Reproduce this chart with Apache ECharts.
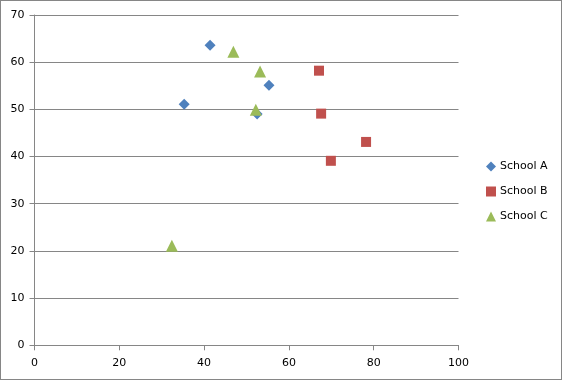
<!DOCTYPE html>
<html><head><meta charset="utf-8">
<script src="https://cdn.jsdelivr.net/npm/echarts@6/dist/echarts.min.js"></script>
<style>html,body{margin:0;padding:0;background:#fff}#c{width:562px;height:380px;box-sizing:border-box;border:1px solid #868686}</style>
</head><body><div id="c"></div>
<script>
const seriesNames = ['School A', 'School B', 'School C'];
const schoolA = [[41.4, 63.6], [35.3, 51.1], [55.3, 55.1], [52.5, 49.0]];
const schoolB = [[67.1, 58.2], [67.6, 49.1], [78.2, 43.1], [69.9, 39.1]];
const schoolC = [[46.9, 62.2], [53.2, 58.0], [52.2, 49.9], [32.4, 21.1]];
const xTicks = [0, 20, 40, 60, 80, 100];
const yTicks = [0, 10, 20, 30, 40, 50, 60, 70];

const chart = echarts.init(document.getElementById('c'), null, {renderer: 'canvas'});
const axisCol = '#868686';
const font = {fontFamily: 'DejaVu Sans', fontSize: 11, color: '#000'};
chart.setOption({
  animation: false,
  textStyle: font,
  grid: {left: 33.5, right: 102.5, top: 14, bottom: 33.7, containLabel: false},
  legend: {
    orient: 'vertical', left: 480, top: 155,
    itemWidth: 10, itemHeight: 10, itemGap: 14,
    textStyle: {fontFamily: 'DejaVu Sans', fontSize: 11, color: '#000', padding: [0, 0, 0, -1]},
    data: [
      {name: seriesNames[0], icon: 'diamond'},
      {name: seriesNames[1], icon: 'rect'},
      {name: seriesNames[2], icon: 'triangle'}
    ]
  },
  xAxis: {
    type: 'value', min: xTicks[0], max: xTicks[xTicks.length - 1], interval: 20,
    axisLine: {show: true, lineStyle: {color: axisCol}},
    axisTick: {show: true, length: 5, lineStyle: {color: axisCol}},
    splitLine: {show: false},
    axisLabel: {margin: 12, fontFamily: 'DejaVu Sans', fontSize: 11, color: '#000'}
  },
  yAxis: {
    type: 'value', min: yTicks[0], max: yTicks[yTicks.length - 1], interval: 10,
    axisLine: {show: true, lineStyle: {color: axisCol}},
    axisTick: {show: true, length: 5, lineStyle: {color: axisCol}},
    splitLine: {show: true, lineStyle: {color: axisCol, width: 1}},
    axisLabel: {margin: 10, fontFamily: 'DejaVu Sans', fontSize: 11, color: '#000'}
  },
  series: [
    {name: seriesNames[0], type: 'scatter', symbol: 'diamond', symbolSize: 11, data: schoolA, itemStyle: {color: '#4F81BD', opacity: 1}},
    {name: seriesNames[1], type: 'scatter', symbol: 'rect', symbolSize: 10, data: schoolB, itemStyle: {color: '#C0504D', opacity: 1}},
    {name: seriesNames[2], type: 'scatter', symbol: 'triangle', symbolSize: 12, data: schoolC, itemStyle: {color: '#9BBB59', opacity: 1}}
  ]
});
</script></body></html>
